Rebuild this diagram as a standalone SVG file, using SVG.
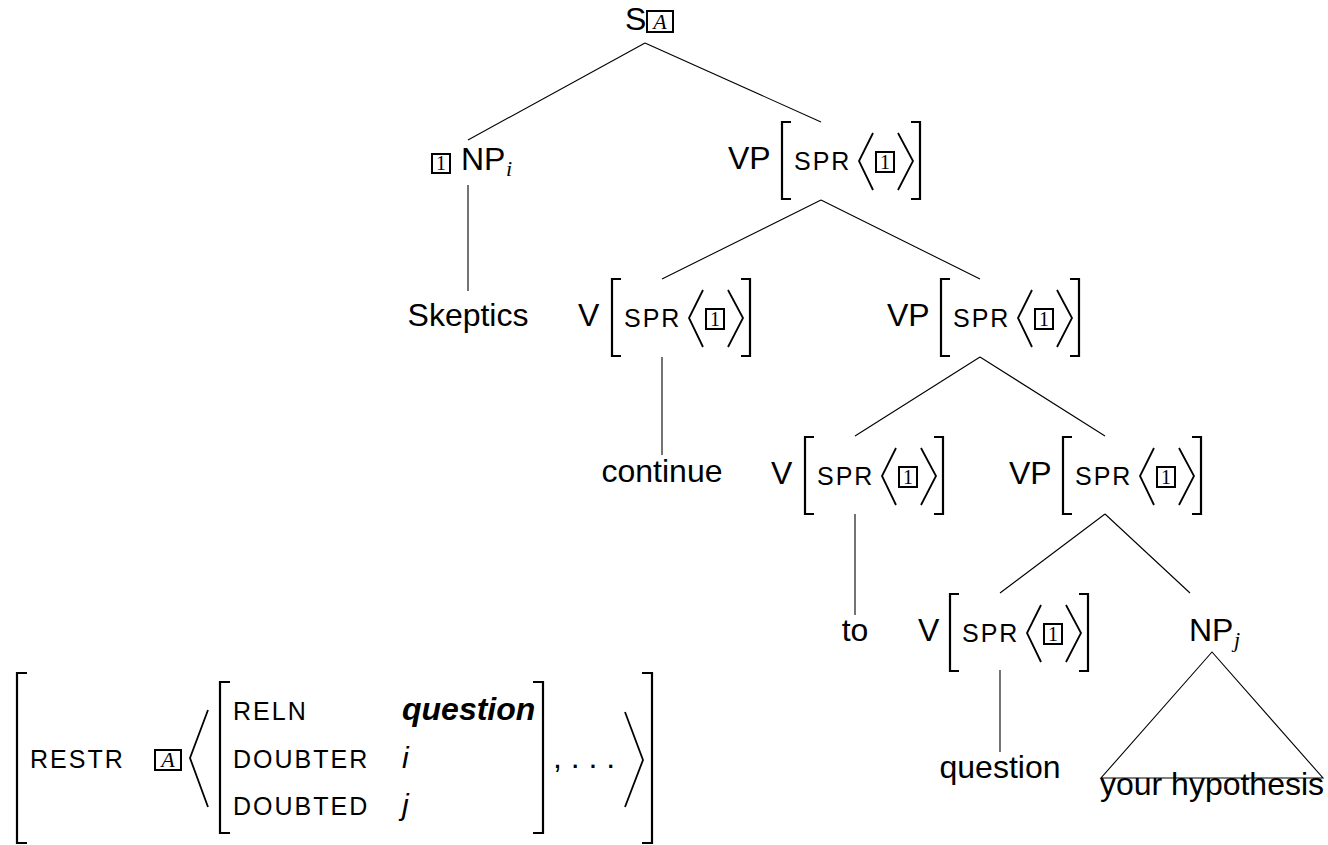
<svg xmlns="http://www.w3.org/2000/svg" xmlns:xlink="http://www.w3.org/1999/xlink" width="1328" height="845" viewBox="0 0 1328 845">
  <style>
    .lbl { font-family: "Liberation Sans", Arial, sans-serif; font-size: 32px; fill: #000; }
    .sc { font-family: "Liberation Sans", Arial, sans-serif; font-size: 25px; letter-spacing: 2px; fill: #000; }
    .tag { font-family: "Liberation Serif", "Times New Roman", serif; font-size: 20px; fill: #000; text-anchor: middle; }
    .mi { font-family: "Liberation Serif", "Times New Roman", serif; font-style: italic; font-size: 22px; fill: #000; }
    .val { font-family: "Liberation Sans", Arial, sans-serif; font-style: italic; font-size: 30px; fill: #000; }
    .bold { font-weight: bold; font-size: 32px; }
    .mid { text-anchor: middle; }
    .edge { stroke: #000; stroke-width: 1.1; fill: none; }
    .brk { stroke: #000; stroke-width: 2.2; fill: none; }
    .ang { stroke: #000; stroke-width: 1.8; fill: none; }
    .box { stroke: #000; stroke-width: 2; fill: none; }
  </style>
  <defs>
    <!-- feature structure [SPR <1>], origin at top of left bracket -->
    <g id="spr">
      <path class="brk" d="M9,0 H0 V77 H9 M129,0 H138 V77 H129"/>
      <text class="sc" x="12" y="48">SPR</text>
      <path class="ang" d="M91,11 L77,39 L91,68 M116,11 L131,39 L116,68"/>
      <rect class="box" x="94" y="30" width="18" height="20"/>
      <text class="tag" x="103" y="47">1</text>
    </g>
  </defs>

  <!-- tree connectors -->
  <g id="edges">
    <path class="edge" d="M645,43 L468,140 M645,43 L821,122"/>
    <path class="edge" d="M468,185 L468,291"/>
    <path class="edge" d="M821,200 L662,279 M821,200 L980,279"/>
    <path class="edge" d="M662,357 L662,455"/>
    <path class="edge" d="M980,357 L855,436 M980,357 L1105,436"/>
    <path class="edge" d="M855,514 L855,615"/>
    <path class="edge" d="M1105,514 L1000,593 M1105,514 L1190,593"/>
    <path class="edge" d="M1000,670 L1000,752"/>
    <path class="edge" d="M1212,652 L1101,778 L1323,778 Z"/>
  </g>

  <!-- root -->
  <g id="node-s">
    <text class="lbl" x="625" y="30">S</text>
    <rect class="box" x="647" y="11" width="26" height="21"/>
    <text class="mi" x="660" y="29" text-anchor="middle" font-size="20">A</text>
  </g>

  <g id="node-np-i">
    <rect class="box" x="432" y="154" width="18" height="19"/>
    <text class="tag" x="441" y="170">1</text>
    <text class="lbl" x="461" y="170">NP</text>
    <text class="mi" x="506" y="176">i</text>
  </g>

  <g id="node-vp1">
    <text class="lbl" x="728" y="169">VP</text>
    <use xlink:href="#spr" x="782" y="122"/>
  </g>

  <g id="leaf-skeptics">
    <text class="lbl mid" x="468" y="326">Skeptics</text>
  </g>

  <g id="node-v1">
    <text class="lbl" x="578" y="326">V</text>
    <use xlink:href="#spr" x="612" y="279"/>
  </g>

  <g id="node-vp2">
    <text class="lbl" x="887" y="326">VP</text>
    <use xlink:href="#spr" x="941" y="279"/>
  </g>

  <g id="leaf-continue">
    <text class="lbl mid" x="662" y="482">continue</text>
  </g>

  <g id="node-v2">
    <text class="lbl" x="771" y="484">V</text>
    <use xlink:href="#spr" x="805" y="437"/>
  </g>

  <g id="node-vp3">
    <text class="lbl" x="1009" y="484">VP</text>
    <use xlink:href="#spr" x="1063" y="437"/>
  </g>

  <g id="leaf-to">
    <text class="lbl mid" x="855" y="641">to</text>
  </g>

  <g id="node-v3">
    <text class="lbl" x="918" y="641">V</text>
    <use xlink:href="#spr" x="950" y="594"/>
  </g>

  <g id="node-np-j">
    <text class="lbl" x="1189" y="641">NP</text>
    <text class="mi" x="1234" y="647">j</text>
  </g>

  <g id="leaf-question">
    <text class="lbl mid" x="1000" y="778">question</text>
  </g>

  <g id="leaf-your-hypothesis">
    <text class="lbl mid" x="1212" y="795">your hypothesis</text>
  </g>

  <!-- semantic restriction structure -->
  <g id="avm-restr">
    <path class="brk" d="M27,673 H17 V843 H27 M642,673 H652 V843 H642"/>
    <text class="sc" x="30" y="768">RESTR</text>
    <rect class="box" x="155" y="750" width="26" height="20"/>
    <text class="mi" x="168" y="767" text-anchor="middle" font-size="20">A</text>
    <path class="ang" d="M208,710 L190,758 L208,807 M625,712 L643,760 L625,807"/>
    <path class="brk" d="M230,682 H220 V833 H230 M533,682 H543 V833 H533"/>
    <text class="sc" x="233" y="720">RELN</text>
    <text class="sc" x="233" y="768">DOUBTER</text>
    <text class="sc" x="233" y="815">DOUBTED</text>
    <text class="val bold" x="402" y="720">question</text>
    <text class="val" x="402" y="768">i</text>
    <text class="val" x="402" y="815">j</text>
    <text class="lbl" x="553" y="768">, . . .</text>
  </g>
</svg>
